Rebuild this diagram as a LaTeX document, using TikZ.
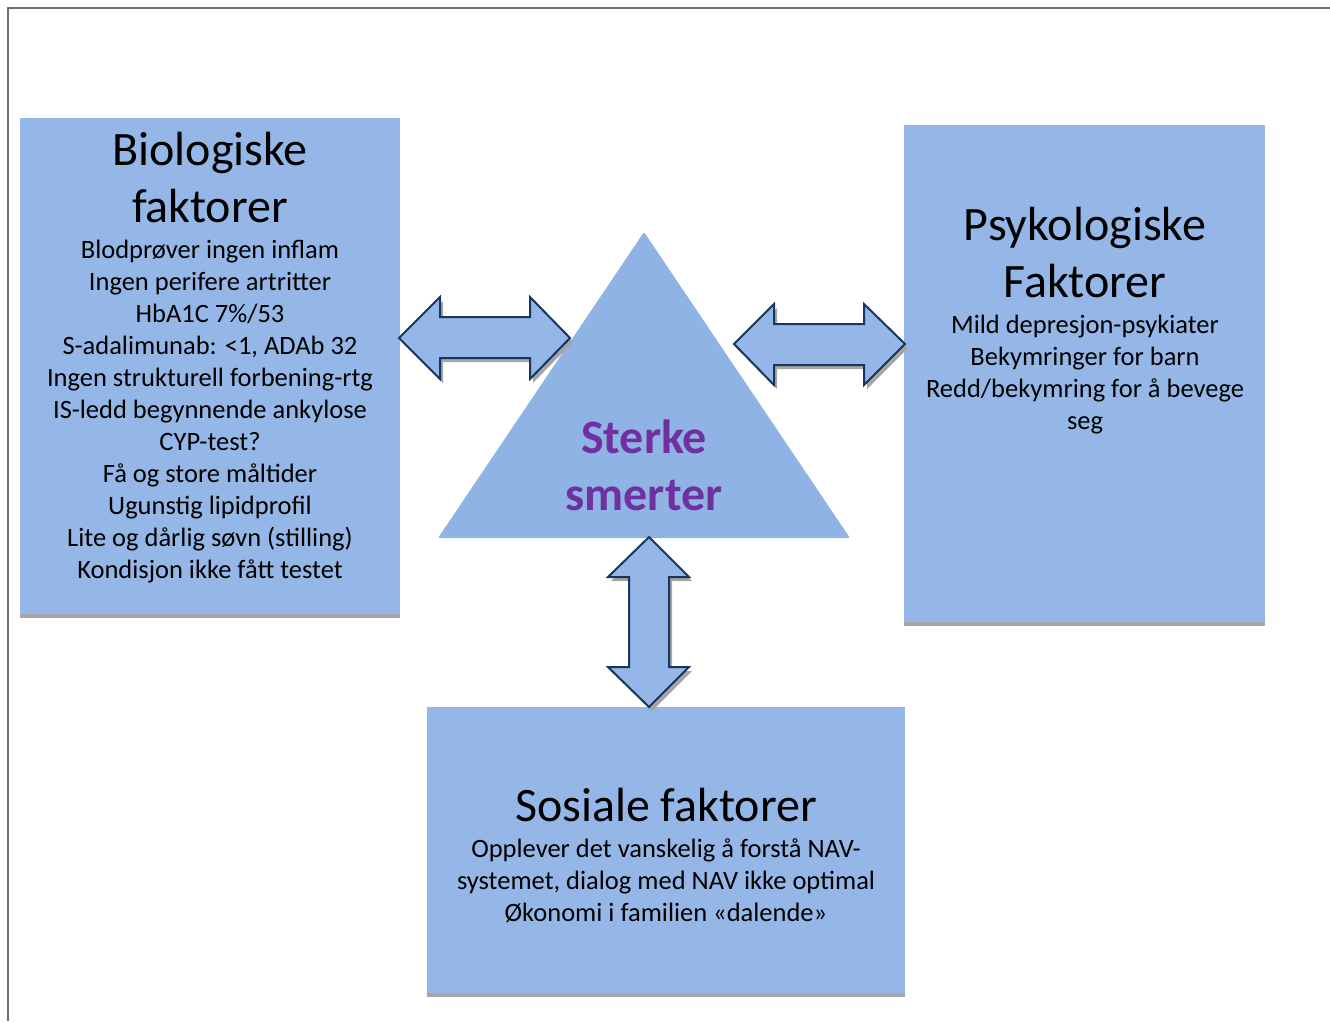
\documentclass[tikz,border=0pt]{standalone}
\usepackage{fontspec}
\setmainfont{Carlito}
\definecolor{boxblue}{RGB}{149,183,231}
\definecolor{triblue}{RGB}{143,179,228}
\definecolor{navy}{RGB}{23,54,93}
\definecolor{shadowgray}{RGB}{165,165,165}
\definecolor{framegray}{RGB}{110,110,110}
\definecolor{purpletxt}{RGB}{112,48,160}
\begin{document}
\begin{tikzpicture}[x=1pt,y=-1pt,
  boxstyle/.style={fill=boxblue,draw=none},
  shadowbox/.style={fill=shadowgray,draw=none},
  blockarrow/.style={fill=boxblue,draw=navy,line width=2pt,line join=miter},
  arrowshadow/.style={fill=shadowgray,draw=none},
  titletext/.style={align=center,font=\fontsize{48}{57}\selectfont,inner sep=0pt},
  bodytext/.style={align=center,font=\fontsize{26.5}{32}\selectfont,inner sep=0pt},
  centertext/.style={align=center,font=\fontsize{48}{57}\selectfont\bfseries,text=purpletxt,inner sep=0pt}]
\useasboundingbox (0,0) rectangle (1330,1021);
% frame
\draw[framegray,line width=1.5pt] (8,1021) -- (8,8) -- (1330,8);
% boxes with shadows
\fill[shadowbox] (20,122) rectangle (400,618);
\fill[boxstyle] (20,118) rectangle (400,614);
\fill[shadowbox] (904,129) rectangle (1265,626);
\fill[boxstyle] (904,125) rectangle (1265,622);
\fill[shadowbox] (427,711) rectangle (905,997);
\fill[boxstyle] (427,707) rectangle (905,993);
% triangle
\fill[triblue,rounded corners=2pt] (644,232) -- (850,538) -- (438,538) -- cycle;
% arrows
\begin{scope}[shift={(3,4)}]
\fill[arrowshadow] (399,338) -- (440,297) -- (440,317) -- (530,317) -- (530,297) -- (570,338) -- (530,379) -- (530,358) -- (440,358) -- (440,379) -- cycle;
\fill[arrowshadow] (734,344) -- (774,304) -- (774,324) -- (864,324) -- (864,304) -- (905,344) -- (864,385) -- (864,365) -- (774,365) -- (774,385) -- cycle;
\fill[arrowshadow] (649,537) -- (689,577) -- (669,577) -- (669,667) -- (689,667) -- (649,707) -- (608,667) -- (629,667) -- (629,577) -- (608,577) -- cycle;
\end{scope}
\draw[blockarrow] (399,338) -- (440,297) -- (440,317) -- (530,317) -- (530,297) -- (570,338) -- (530,379) -- (530,358) -- (440,358) -- (440,379) -- cycle;
\draw[blockarrow] (734,344) -- (774,304) -- (774,324) -- (864,324) -- (864,304) -- (905,344) -- (864,385) -- (864,365) -- (774,365) -- (774,385) -- cycle;
\draw[blockarrow] (649,537) -- (689,577) -- (669,577) -- (669,667) -- (689,667) -- (649,707) -- (608,667) -- (629,667) -- (629,577) -- (608,577) -- cycle;
% texts
\node[titletext] (biotitle) at (210,178) {Biologiske\\faktorer};
\node[bodytext] (biobody) at (210,412) {Blodprøver ingen inflam\\Ingen perifere artritter\\HbA1C 7\%/53\\S-adalimunab: <1, ADAb 32\\Ingen strukturell forbening-rtg\\IS-ledd begynnende ankylose\\CYP-test?\\Få og store måltider\\Ugunstig lipidprofil\\Lite og dårlig søvn (stilling)\\Kondisjon ikke fått testet};
\node[titletext] (psytitle) at (1085,252.5) {Psykologiske\\Faktorer};
\node[bodytext] (psybody) at (1085,375) {Mild depresjon-psykiater\\Bekymringer for barn\\Redd/bekymring for å bevege\\seg};
\node[titletext] (sostitle) at (666,805) {Sosiale faktorer};
\node[bodytext] (sosbody) at (666,881) {Opplever det vanskelig å forstå NAV-\\systemet, dialog med NAV ikke optimal\\Økonomi i familien «dalende»};
\node[centertext] (pain) at (644,465.5) {Sterke\\smerter};
\end{tikzpicture}
\end{document}
